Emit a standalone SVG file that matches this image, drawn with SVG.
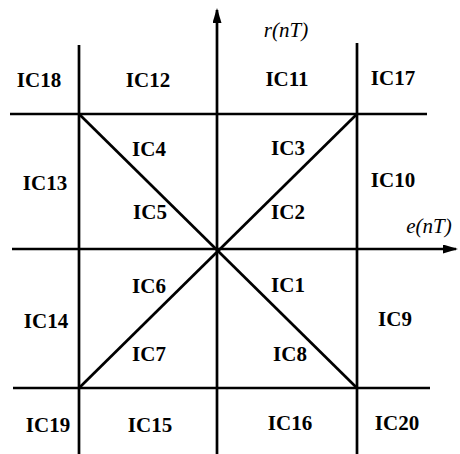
<svg xmlns="http://www.w3.org/2000/svg" width="460" height="454" viewBox="0 0 460 454">
<defs>
<style>
.ln{stroke:#000;stroke-width:2.7;fill:none;stroke-linecap:butt}
.lb{font-family:"Liberation Serif",serif;font-size:21px;font-weight:bold;fill:#000;text-anchor:middle;dominant-baseline:central}
.ax{font-family:"Liberation Serif",serif;font-size:21px;font-style:italic;fill:#000;text-anchor:middle;dominant-baseline:central}
</style>
<marker id="ah" viewBox="0 0 15 9" refX="13" refY="4.5" markerWidth="15" markerHeight="9" orient="auto" markerUnits="userSpaceOnUse">
<path d="M0,0 L15,4.5 L0,9 Z" fill="#000"/>
</marker>
</defs>
<rect width="460" height="454" fill="#fff"/>
<g id="connectors">
<line class="ln" x1="79" y1="45" x2="79" y2="454"/>
<line class="ln" x1="357" y1="43" x2="357" y2="454"/>
<line class="ln" x1="217" y1="454" x2="217" y2="10" marker-end="url(#ah)"/>
<line class="ln" x1="10" y1="114" x2="427" y2="114"/>
<line class="ln" x1="12" y1="249" x2="456" y2="249" marker-end="url(#ah)"/>
<line class="ln" x1="13" y1="388" x2="430" y2="388"/>
<line class="ln" x1="79" y1="114" x2="357" y2="388"/>
<line class="ln" x1="357" y1="114" x2="79" y2="388"/>
</g>
<g id="axis-r"><text class="ax" x="286" y="30">r(nT)</text></g>
<g id="axis-e"><text class="ax" x="429" y="226">e(nT)</text></g>
<g id="IC18"><text class="lb" x="39" y="80">IC18</text></g>
<g id="IC12"><text class="lb" x="148" y="80">IC12</text></g>
<g id="IC11"><text class="lb" x="287" y="79">IC11</text></g>
<g id="IC17"><text class="lb" x="393" y="78">IC17</text></g>
<g id="IC4"><text class="lb" x="149" y="149">IC4</text></g>
<g id="IC3"><text class="lb" x="288" y="148">IC3</text></g>
<g id="IC13"><text class="lb" x="45" y="183">IC13</text></g>
<g id="IC10"><text class="lb" x="393" y="180">IC10</text></g>
<g id="IC5"><text class="lb" x="150" y="212">IC5</text></g>
<g id="IC2"><text class="lb" x="288" y="212">IC2</text></g>
<g id="IC6"><text class="lb" x="149" y="286">IC6</text></g>
<g id="IC1"><text class="lb" x="288" y="285">IC1</text></g>
<g id="IC14"><text class="lb" x="46" y="321">IC14</text></g>
<g id="IC9"><text class="lb" x="395" y="319">IC9</text></g>
<g id="IC7"><text class="lb" x="149" y="354">IC7</text></g>
<g id="IC8"><text class="lb" x="290" y="354">IC8</text></g>
<g id="IC19"><text class="lb" x="48" y="425">IC19</text></g>
<g id="IC15"><text class="lb" x="150" y="425">IC15</text></g>
<g id="IC16"><text class="lb" x="290" y="423">IC16</text></g>
<g id="IC20"><text class="lb" x="397" y="423">IC20</text></g>
</svg>
